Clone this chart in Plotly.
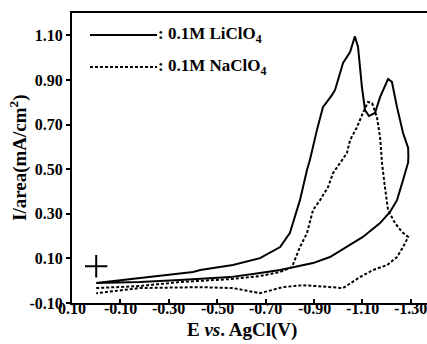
import plotly.graph_objects as go

# LiClO4 (solid) cyclic voltammogram: forward + return
li_E = [0.0, -0.18, -0.40, -0.43, -0.565, -0.677, -0.76, -0.80, -0.842, -0.871, -0.883, -0.912,
        -0.937, -0.974, -0.987, -1.020, -1.049, -1.069, -1.082, -1.098, -1.111, -1.127, -1.152,
        -1.173, -1.206, -1.222, -1.243, -1.268, -1.289, -1.29,
        -1.289, -1.268, -1.243, -1.214, -1.173, -1.102, -1.036, -0.966, -0.896, -0.830, -0.760,
        -0.677, -0.553, -0.346, -0.18, 0.0]
li_I = [-0.01, 0.012, 0.039, 0.048, 0.07, 0.101, 0.151, 0.213, 0.361, 0.496, 0.541, 0.675,
        0.778, 0.832, 0.855, 0.976, 1.025, 1.095, 1.048, 0.868, 0.765, 0.738, 0.752,
        0.823, 0.904, 0.891, 0.778, 0.662, 0.595, 0.56,
        0.53, 0.451, 0.361, 0.308, 0.258, 0.196, 0.151, 0.106, 0.079, 0.065, 0.048,
        0.034, 0.016, 0.003, -0.006, -0.01]

# NaClO4 (dashed)
na_E = [0.0, -0.18, -0.346, -0.553, -0.677, -0.76, -0.809, -0.842, -0.871, -0.896, -0.925, -0.958,
        -0.979, -1.007, -1.036, -1.049, -1.078, -1.102, -1.123, -1.14, -1.16, -1.173, -1.181,
        -1.193, -1.206, -1.235, -1.264, -1.289,
        -1.268, -1.243, -1.202, -1.144, -1.090, -1.020, -0.855, -0.772, -0.677, -0.565, -0.429,
        -0.18, 0.0]
na_I = [-0.033, -0.024, -0.006, 0.007, 0.021, 0.039, 0.061, 0.151, 0.213, 0.317, 0.361, 0.420,
        0.483, 0.527, 0.572, 0.630, 0.689, 0.752, 0.801, 0.796, 0.734, 0.644, 0.527,
        0.420, 0.317, 0.258, 0.218, 0.196,
        0.151, 0.106, 0.070, 0.048, 0.016, -0.033, -0.020, -0.029, -0.056, -0.033, -0.029,
        -0.033, -0.056]

cross_E = [0.0]
cross_I = [0.065]

x_tickvals = [0.1, -0.1, -0.3, -0.5, -0.7, -0.9, -1.1, -1.3]
x_ticktext = ["0.10", "-0.10", "-0.30", "-0.50", "-0.70", "-0.90", "-1.10", "-1.30"]
y_tickvals = [-0.1, 0.1, 0.3, 0.5, 0.7, 0.9, 1.1]
y_ticktext = ["-0.10", "0.10", "0.30", "0.50", "0.70", "0.90", "1.10"]

FONT = "Liberation Serif"

fig = go.Figure()
fig.add_trace(go.Scatter(x=li_E, y=li_I, mode="lines",
                         line=dict(color="black", width=2), showlegend=False))
fig.add_trace(go.Scatter(x=na_E, y=na_I, mode="lines",
                         line=dict(color="black", width=2, dash="3px,2px"), showlegend=False))
fig.add_trace(go.Scatter(x=cross_E, y=cross_I, mode="markers",
                         marker=dict(symbol="cross-thin", size=16,
                                     line=dict(color="black", width=2)),
                         showlegend=False))

L, R, T, B = 72, 0, 13, 41
W, H = 427, 344
pw, ph = W - L - R, H - T - B

def px(x):
    return (x - L) / pw

def py(y):
    return (H - B - y) / ph

# legend drawn manually
fig.add_shape(type="line", xref="paper", yref="paper", x0=px(90), x1=px(157), y0=py(35), y1=py(35),
              line=dict(color="black", width=2))
fig.add_shape(type="line", xref="paper", yref="paper", x0=px(90), x1=px(157), y0=py(67), y1=py(67),
              line=dict(color="black", width=2, dash="3px,2px"))
fig.add_annotation(xref="paper", yref="paper", x=px(156), y=py(35), xanchor="left", yanchor="middle",
                   text="<b>: 0.1M LiClO<sub>4</sub></b>", showarrow=False,
                   font=dict(family=FONT, size=17, color="black"))
fig.add_annotation(xref="paper", yref="paper", x=px(156), y=py(67), xanchor="left", yanchor="middle",
                   text="<b>: 0.1M NaClO<sub>4</sub></b>", showarrow=False,
                   font=dict(family=FONT, size=17, color="black"))

# x tick labels placed just under the axis (data x positions)
for v, t in zip(x_tickvals, x_ticktext):
    fig.add_annotation(xref="x", yref="paper", x=v, y=py(298), xanchor="center", yanchor="top",
                       text="<b>" + t + "</b>", showarrow=False,
                       font=dict(family=FONT, size=16, color="black"))

# axis titles
fig.add_annotation(xref="paper", yref="paper", x=px(242), y=py(343), xanchor="center", yanchor="bottom",
                   text="<b>E <i>vs</i>. AgCl(V)</b>", showarrow=False,
                   font=dict(family=FONT, size=19, color="black"))
fig.add_annotation(xref="paper", yref="paper", x=px(18), y=py(158), xanchor="center", yanchor="middle",
                   text="<b>I/area(mA/cm<sup>2</sup>)</b>", textangle=-90, showarrow=False,
                   font=dict(family=FONT, size=19, color="black"))

fig.update_xaxes(range=[0.10, 0.10 - pw / 242.0], tickvals=x_tickvals, showticklabels=False,
                 ticks="inside", ticklen=4, tickwidth=1.5, tickcolor="black",
                 showline=True, linecolor="black", linewidth=2, mirror=True,
                 showgrid=False, zeroline=False)
fig.update_yaxes(range=[-0.10, 1.20], tickvals=y_tickvals,
                 ticktext=["<b>" + t + "</b>" for t in y_ticktext],
                 ticks="outside", ticklen=4, tickwidth=1.5, tickcolor="black",
                 showline=True, linecolor="black", linewidth=2,
                 showgrid=False, zeroline=False,
                 tickfont=dict(family=FONT, size=16, color="black"))

fig.update_layout(width=W, height=H, margin=dict(l=L, r=R, t=T, b=B),
                  plot_bgcolor="white", paper_bgcolor="white", showlegend=False)

fig.write_html("out.html")
